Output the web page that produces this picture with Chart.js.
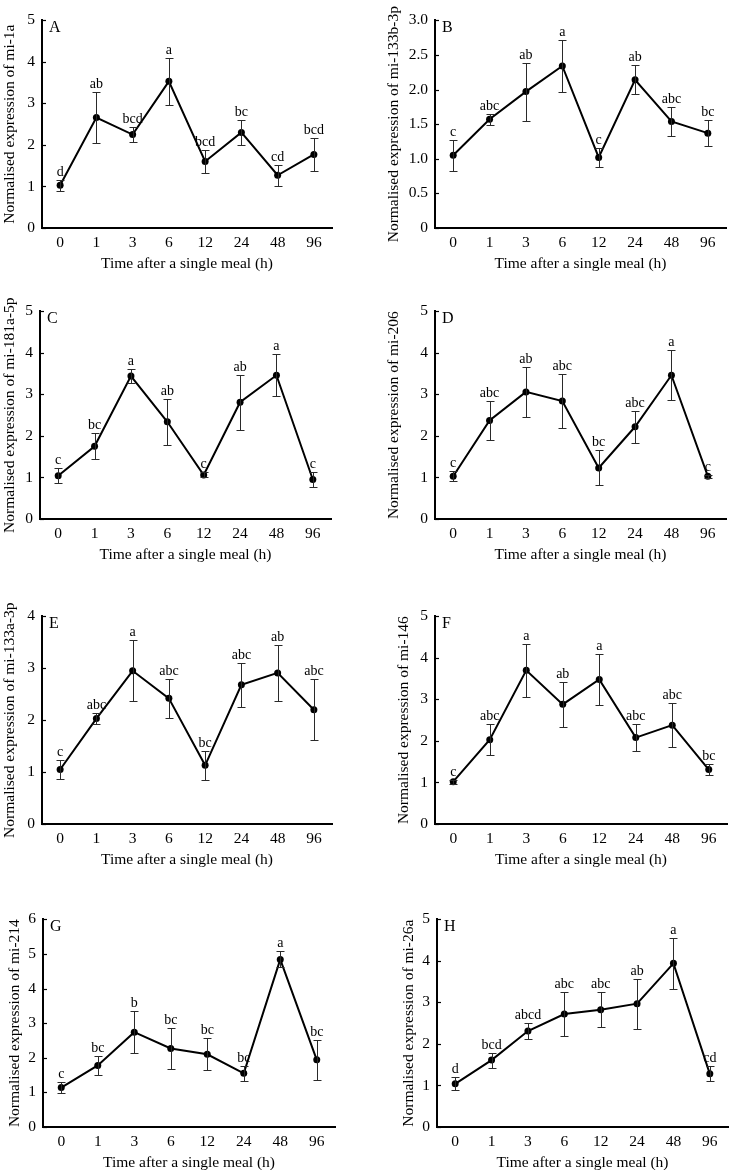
<!DOCTYPE html>
<html>
<head>
<meta charset="utf-8">
<script src="https://cdn.jsdelivr.net/npm/chart.js@4.4.1/dist/chart.umd.min.js"></script>
<style>
  html, body { margin: 0; padding: 0; background: #fff; }
  #fig { position: relative; width: 732px; height: 1170px; overflow: hidden; }
  .panel { position: absolute; }
</style>
</head>
<body>
<div id="fig"></div>
<script>
/* ---- data ---- */
const TIMES = ['0', '1', '3', '6', '12', '24', '48', '96'];
const PANEL_TAGS = ['A', 'B', 'C', 'D', 'E', 'F', 'G', 'H'];
const GENES = ['mi-1a', 'mi-133b-3p', 'mi-181a-5p', 'mi-206', 'mi-133a-3p', 'mi-146', 'mi-214', 'mi-26a'];
const Y_MAX = [5, 3, 5, 5, 4, 5, 6, 5];
const Y_STEP = [1, 0.5, 1, 1, 1, 1, 1, 1];

const MEAN_A = [1.03, 2.66, 2.25, 3.53, 1.60, 2.30, 1.27, 1.77];
const SE_A   = [0.13, 0.61, 0.17, 0.56, 0.27, 0.31, 0.25, 0.40];
const SIG_A  = ['d', 'ab', 'bcd', 'a', 'bcd', 'bc', 'cd', 'bcd'];

const MEAN_B = [1.05, 1.57, 1.97, 2.34, 1.02, 2.14, 1.54, 1.37];
const SE_B   = [0.22, 0.08, 0.42, 0.38, 0.14, 0.21, 0.21, 0.19];
const SIG_B  = ['c', 'abc', 'ab', 'a', 'c', 'ab', 'abc', 'bc'];

const MEAN_C = [1.04, 1.75, 3.44, 2.34, 1.06, 2.81, 3.46, 0.95];
const SE_C   = [0.18, 0.31, 0.16, 0.55, 0.06, 0.66, 0.51, 0.17];
const SIG_C  = ['c', 'bc', 'a', 'ab', 'c', 'ab', 'a', 'c'];

const MEAN_D = [1.03, 2.37, 3.06, 2.84, 1.23, 2.22, 3.46, 1.03];
const SE_D   = [0.12, 0.48, 0.61, 0.66, 0.42, 0.38, 0.60, 0.04];
const SIG_D  = ['c', 'abc', 'ab', 'abc', 'bc', 'abc', 'a', 'c'];

const MEAN_E = [1.05, 2.03, 2.95, 2.42, 1.13, 2.68, 2.91, 2.20];
const SE_E   = [0.19, 0.10, 0.59, 0.38, 0.28, 0.42, 0.54, 0.59];
const SIG_E  = ['c', 'abc', 'a', 'abc', 'bc', 'abc', 'ab', 'abc'];

const MEAN_F = [1.02, 2.03, 3.70, 2.88, 3.48, 2.08, 2.38, 1.31];
const SE_F   = [0.05, 0.37, 0.64, 0.54, 0.62, 0.33, 0.53, 0.13];
const SIG_F  = ['c', 'abc', 'a', 'ab', 'a', 'abc', 'abc', 'bc'];

const MEAN_G = [1.14, 1.78, 2.74, 2.27, 2.10, 1.55, 4.84, 1.94];
const SE_G   = [0.17, 0.27, 0.60, 0.60, 0.46, 0.21, 0.23, 0.57];
const SIG_G  = ['c', 'bc', 'b', 'bc', 'bc', 'bc', 'a', 'bc'];

const MEAN_H = [1.04, 1.61, 2.31, 2.72, 2.82, 2.97, 3.94, 1.28];
const SE_H   = [0.16, 0.18, 0.20, 0.53, 0.42, 0.60, 0.62, 0.18];
const SIG_H  = ['d', 'bcd', 'abcd', 'abc', 'abc', 'ab', 'a', 'cd'];

const MEANS = [MEAN_A, MEAN_B, MEAN_C, MEAN_D, MEAN_E, MEAN_F, MEAN_G, MEAN_H];
const SES = [SE_A, SE_B, SE_C, SE_D, SE_E, SE_F, SE_G, SE_H];
const SIGS = [SIG_A, SIG_B, SIG_C, SIG_D, SIG_E, SIG_F, SIG_G, SIG_H];

/* ---- layout (page pixels): y-title centre, axis x, plot top, plot right, plot bottom ---- */
const BOXES = [
  [10, 42, 16, 335, 228],
  [394, 435, 16, 729, 228],
  [10, 40, 307, 334, 519],
  [394, 435, 307, 729, 519],
  [10, 42, 612, 335, 824],
  [404, 435, 612, 730, 824],
  [15, 43, 915, 338, 1127],
  [409, 437, 915, 731, 1127]
];

const FONT = "'Liberation Serif', 'Times New Roman', serif";
const TOP_PAD = 12;
const X_AXIS_H = 45;

// error bars, inward ticks, significance letters and panel tag
const decorPlugin = {
  id: 'decor',
  afterDatasetsDraw(chart, args, opts) {
    const ctx = chart.ctx;
    const xs = chart.scales.x, ys = chart.scales.y;
    const area = chart.chartArea;
    ctx.save();
    // inward ticks on y axis
    ctx.strokeStyle = '#000';
    ctx.lineWidth = 1.2;
    ys.ticks.forEach(function (t) {
      const y = Math.round(ys.getPixelForValue(t.value)) + 0.5;
      ctx.beginPath(); ctx.moveTo(area.left, y); ctx.lineTo(area.left + 4, y); ctx.stroke();
    });
    // error bars
    ctx.strokeStyle = '#2a2a2a';
    ctx.lineWidth = 1;
    opts.mean.forEach(function (m, i) {
      const x = Math.round(xs.getPixelForValue(i)) + 0.5;
      const yt = Math.round(ys.getPixelForValue(m + opts.se[i])) + 0.5;
      const yb = Math.round(ys.getPixelForValue(m - opts.se[i])) + 0.5;
      ctx.beginPath();
      ctx.moveTo(x, yt); ctx.lineTo(x, yb);
      ctx.moveTo(x - 4, yt); ctx.lineTo(x + 4, yt);
      ctx.moveTo(x - 4, yb); ctx.lineTo(x + 4, yb);
      ctx.stroke();
    });
    // letters
    ctx.fillStyle = '#000';
    ctx.font = '14px ' + FONT;
    ctx.textAlign = 'center';
    ctx.textBaseline = 'alphabetic';
    opts.sig.forEach(function (s, i) {
      const x = xs.getPixelForValue(i);
      const yt = ys.getPixelForValue(opts.mean[i] + opts.se[i]);
      ctx.fillText(s, x, yt - 4);
    });
    // panel tag
    ctx.font = '16px ' + FONT;
    ctx.textAlign = 'left';
    ctx.fillText(opts.tag, area.left + 7, area.top + 12);
    ctx.restore();
  }
};

const fig = document.getElementById('fig');

PANEL_TAGS.forEach(function (tag, p) {
  const b = BOXES[p];
  const left = b[0] - 9;
  const top = b[2] - TOP_PAD;
  const width = b[3] - left + 1;
  const height = b[4] + X_AXIS_H - top;
  const yWidth = b[1] - left;

  const div = document.createElement('div');
  div.className = 'panel';
  div.style.left = left + 'px';
  div.style.top = top + 'px';
  div.style.width = width + 'px';
  div.style.height = height + 'px';
  const cv = document.createElement('canvas');
  div.appendChild(cv);
  fig.appendChild(div);

  const step = Y_STEP[p];

  new Chart(cv, {
    type: 'line',
    data: {
      labels: TIMES,
      datasets: [{
        data: MEANS[p],
        borderColor: '#000',
        backgroundColor: '#000',
        borderWidth: 2,
        pointRadius: 3.5,
        pointBackgroundColor: '#000',
        pointBorderWidth: 0,
        tension: 0,
        fill: false
      }]
    },
    options: {
      responsive: true,
      maintainAspectRatio: false,
      animation: false,
      events: [],
      layout: { padding: { top: TOP_PAD, right: 1, left: 0, bottom: 0 } },
      plugins: {
        legend: { display: false },
        tooltip: { enabled: false },
        decor: { mean: MEANS[p], se: SES[p], sig: SIGS[p], tag: tag }
      },
      scales: {
        x: {
          offset: true,
          grid: { display: true, drawOnChartArea: false, drawTicks: false },
          border: { display: true, color: '#000', width: 2 },
          ticks: { color: '#000', padding: 6, font: { family: FONT, size: 15.5 } },
          title: {
            display: true, text: 'Time after a single meal (h)', color: '#000', padding: 0,
            font: { family: FONT, size: 15.5, lineHeight: 1.2 }
          },
          afterFit: function (s) { s.height = X_AXIS_H; }
        },
        y: {
          min: 0, max: Y_MAX[p],
          grid: { display: true, drawOnChartArea: false, drawTicks: false },
          border: { display: true, color: '#000', width: 2 },
          ticks: {
            stepSize: step, color: '#000', padding: 7, font: { family: FONT, size: 15.5 },
            callback: function (v) { return v === 0 ? '0' : (step < 1 ? v.toFixed(1) : String(v)); }
          },
          title: {
            display: true, text: 'Normalised expression of ' + GENES[p], color: '#000', padding: 0,
            font: { family: FONT, size: 15.5, lineHeight: 1.2 }
          },
          afterFit: function (s) { s.width = yWidth; }
        }
      }
    },
    plugins: [decorPlugin]
  });
});
</script>
</body>
</html>
